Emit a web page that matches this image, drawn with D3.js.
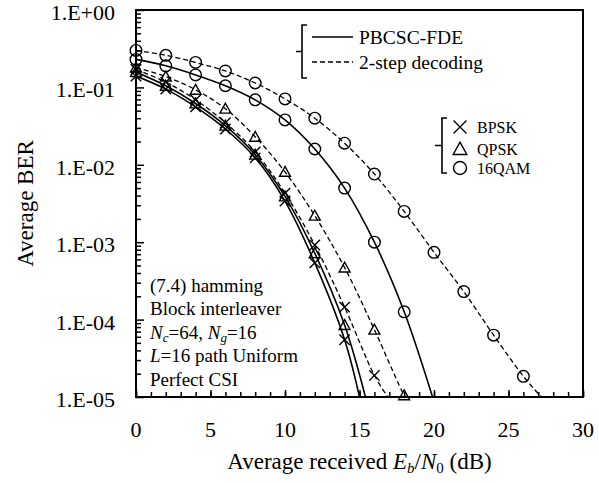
<!DOCTYPE html>
<html>
<head>
<meta charset="utf-8">
<script src="https://cdn.jsdelivr.net/npm/d3@7"></script>
<style>
  body { margin: 0; background: #fff; }
  svg { display: block; font-family: "Liberation Serif", "Times New Roman", serif; }
</style>
</head>
<body>
<div id="chart"></div>
<script>
// Eb/N0 where markers sit (dB)
const snr = [0, 2, 4, 6, 8, 10, 12, 14, 16, 18, 20, 22, 24, 26];

// average BER, one array per curve
const bpskFde    = [0.14, 0.095, 0.056, 0.029, 0.0123, 0.0034, 5.4e-4, 5.5e-5];
const qpskFde    = [0.158, 0.105, 0.062, 0.032, 0.0135, 0.0039, 7.2e-4, 8.5e-5];
const qam16Fde   = [0.23, 0.19, 0.145, 0.105, 0.069, 0.038, 0.016, 0.005, 1.0e-3, 1.26e-4];
const bpsk2step  = [0.17, 0.117, 0.069, 0.035, 0.0147, 0.0043, 9.2e-4, 1.45e-4, 1.9e-5];
const qpsk2step  = [0.18, 0.138, 0.093, 0.053, 0.023, 0.0081, 0.0022, 4.7e-4, 7.4e-5, 1.05e-5];
const qam16_2step = [0.30, 0.26, 0.21, 0.163, 0.114, 0.071, 0.040, 0.019, 0.0076, 0.0025, 7.4e-4, 2.3e-4, 6.3e-5, 1.85e-5];

// Eb/N0 where each curve runs into the 1E-05 floor
const floorHit = { bpskFde: 15.0, qpskFde: 15.4, qam16Fde: 19.9, bpsk2step: 16.9, qpsk2step: 18.1, qam16_2step: 27.2 };

const xTicks = [0, 5, 10, 15, 20, 25, 30];
const yTicks = [1, 1e-1, 1e-2, 1e-3, 1e-4, 1e-5];
const yTickLabels = ["1.E+00", "1.E-01", "1.E-02", "1.E-03", "1.E-04", "1.E-05"];
const notes = ["(7.4) hamming", "Block interleaver", "Nc=64, Ng=16", "L=16 path Uniform", "Perfect CSI"];
const methodNames = ["PBCSC-FDE", "2-step decoding"];
const modNames = ["BPSK", "QPSK", "16QAM"];

const series = [
  { key: "bpskFde", ber: bpskFde, mark: "x", dash: false },
  { key: "qpskFde", ber: qpskFde, mark: "tri", dash: false },
  { key: "qam16Fde", ber: qam16Fde, mark: "circle", dash: false },
  { key: "bpsk2step", ber: bpsk2step, mark: "x", dash: true },
  { key: "qpsk2step", ber: qpsk2step, mark: "tri", dash: true },
  { key: "qam16_2step", ber: qam16_2step, mark: "circle", dash: true }
];

const W = 599, H = 483;
const plot = { left: 136, right: 583, top: 10, bottom: 397 };

const x = d3.scaleLinear().domain([0, 30]).range([plot.left, plot.right]);
const y = d3.scaleLog().domain([1e-5, 1]).range([plot.bottom, plot.top]);

const svg = d3.select("#chart").append("svg")
  .attr("width", W).attr("height", H);

svg.append("defs").append("clipPath").attr("id", "plotclip")
  .append("rect")
  .attr("x", plot.left).attr("y", plot.top)
  .attr("width", plot.right - plot.left).attr("height", plot.bottom - plot.top);

// marker path generators
function markPath(kind, s) {
  if (kind === "x") return `M${-s},${-s}L${s},${s}M${-s},${s}L${s},${-s}`;
  if (kind === "tri") return `M0,${-s * 1.05}L${s * 1.05},${s * 0.85}L${-s * 1.05},${s * 0.85}Z`;
  return null;
}
function drawMark(g, kind, cx, cy, s) {
  if (kind === "circle") {
    g.append("circle").attr("cx", cx).attr("cy", cy).attr("r", s)
      .attr("fill", "none").attr("stroke", "#000").attr("stroke-width", 1.4);
  } else {
    g.append("path").attr("transform", `translate(${cx},${cy})`)
      .attr("d", markPath(kind, s))
      .attr("fill", "none").attr("stroke", "#000").attr("stroke-width", 1.4);
  }
}

// curves
const line = d3.line()
  .x(d => x(d[0])).y(d => y(d[1]))
  .curve(d3.curveCatmullRom.alpha(0.5));

const curves = svg.append("g").attr("clip-path", "url(#plotclip)");
series.forEach(s => {
  const pts = s.ber.map((v, i) => [snr[i], v]);
  pts.push([floorHit[s.key], 1e-5]);
  curves.append("path")
    .datum(pts)
    .attr("d", line)
    .attr("fill", "none")
    .attr("stroke", "#000")
    .attr("stroke-width", s.dash ? 1.3 : 1.6)
    .attr("stroke-dasharray", s.dash ? "5,3" : null);
});

const marks = svg.append("g");
series.forEach(s => {
  s.ber.forEach((v, i) => {
    drawMark(marks, s.mark, x(snr[i]), y(v), s.mark === "circle" ? 5.8 : 5.2);
  });
});

// axes (ticks pointing inward)
const yMinor = [];
for (let e = -5; e < 0; e++) for (let m = 2; m <= 9; m++) yMinor.push(m * Math.pow(10, e));

const yAxis = svg.append("g").attr("transform", `translate(${plot.left},0)`);
yAxis.call(d3.axisRight(y).tickValues(yMinor).tickSize(5).tickFormat(""));
yAxis.append("g").call(d3.axisRight(y).tickValues(yTicks).tickSize(8).tickFormat(""));
yAxis.selectAll(".domain").remove();

svg.append("g").selectAll("text").data(yTicks).join("text")
  .attr("x", 115).attr("y", d => y(d) + 10)
  .attr("text-anchor", "end")
  .attr("font-size", 22)
  .text((d, i) => yTickLabels[i]);

const xAxis = svg.append("g").attr("transform", `translate(0,${plot.bottom})`);
xAxis.call(d3.axisTop(x).tickValues(d3.range(0, 31, 1)).tickSize(5).tickFormat(""));
xAxis.append("g").call(d3.axisTop(x).tickValues(xTicks).tickSize(7).tickFormat(""));
xAxis.selectAll(".domain").remove();
svg.selectAll(".tick line").attr("stroke", "#000").attr("stroke-width", 1.5);

svg.append("g").selectAll("text").data(xTicks).join("text")
  .attr("x", d => x(d)).attr("y", 437)
  .attr("text-anchor", "middle")
  .attr("font-size", 22)
  .text(d => d);

// frame
svg.append("rect")
  .attr("x", plot.left).attr("y", plot.top)
  .attr("width", plot.right - plot.left).attr("height", plot.bottom - plot.top)
  .attr("fill", "none").attr("stroke", "#000").attr("stroke-width", 2);

// axis titles
const xt = svg.append("text")
  .attr("x", (plot.left + plot.right) / 2).attr("y", 469)
  .attr("text-anchor", "middle").attr("font-size", 23);
xt.append("tspan").text("Average received ");
xt.append("tspan").attr("font-style", "italic").text("E");
xt.append("tspan").attr("font-style", "italic").attr("font-size", 15).attr("dy", 4).text("b");
xt.append("tspan").attr("dy", -4).text("/");
xt.append("tspan").attr("font-style", "italic").text("N");
xt.append("tspan").attr("font-size", 15).attr("dy", 4).text("0");
xt.append("tspan").attr("dy", -4).text(" (dB)");

svg.append("text")
  .attr("transform", `translate(33,${(plot.top + plot.bottom) / 2}) rotate(-90)`)
  .attr("text-anchor", "middle").attr("font-size", 23)
  .text("Average BER");

// annotation block
const noteG = svg.append("g").attr("font-size", 19);
notes.forEach((t, i) => {
  const tx = noteG.append("text").attr("x", 150).attr("y", 292 + i * 23.4);
  if (i === 2) {
    tx.append("tspan").attr("font-style", "italic").text("N");
    tx.append("tspan").attr("font-style", "italic").attr("font-size", 13).attr("dy", 3).text("c");
    tx.append("tspan").attr("dy", -3).text("=64, ");
    tx.append("tspan").attr("font-style", "italic").text("N");
    tx.append("tspan").attr("font-style", "italic").attr("font-size", 13).attr("dy", 3).text("g");
    tx.append("tspan").attr("dy", -3).text("=16");
  } else if (i === 3) {
    tx.append("tspan").attr("font-style", "italic").text("L");
    tx.append("tspan").text("=16 path Uniform");
  } else {
    tx.text(t);
  }
});

// bracket helper
function bracket(bx, y0, y1, hook, stub) {
  const ym = (y0 + y1) / 2;
  svg.append("path")
    .attr("d", `M${bx + hook},${y0}H${bx}V${y1}H${bx + hook}M${bx},${ym}H${bx - stub}`)
    .attr("fill", "none").attr("stroke", "#000").attr("stroke-width", 1.6);
}

// line-style legend
bracket(302, 25, 78, 5, 6);
methodNames.forEach((t, i) => {
  const ly = 37 + i * 25;
  svg.append("line").attr("x1", 312).attr("x2", 353).attr("y1", ly).attr("y2", ly)
    .attr("stroke", "#000").attr("stroke-width", i ? 1.3 : 1.6)
    .attr("stroke-dasharray", i ? "5,3" : null);
  svg.append("text").attr("x", 359).attr("y", ly + 6.5).attr("font-size", 19.5).text(t);
});

// marker legend
bracket(442, 118, 173, 5, 7);
const legMarks = ["x", "tri", "circle"];
modNames.forEach((t, i) => {
  const ly = [127, 149, 168][i];
  drawMark(svg, legMarks[i], 460, ly, 6.5);
  svg.append("text").attr("x", 477).attr("y", ly + 5.5).attr("font-size", 16).text(t);
});
</script>
</body>
</html>
